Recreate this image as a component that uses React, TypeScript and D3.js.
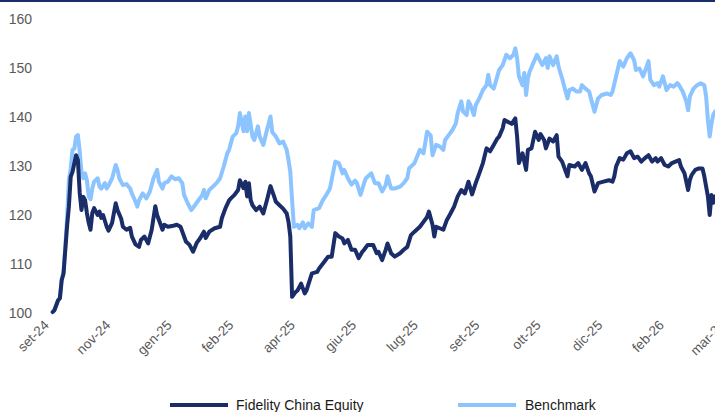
import React from "react";
import * as d3 from "d3";

const fundDays = [0,1,3,4,5,6,7,8,9,10,11,13,14,15,16,17,18,19,20,21,22,23,25,26,27,28,30,31,33,35,36,38,39,41,43,44,46,48,49,51,53,55,57,58,61,62,64,67,69,71,73,74,76,78,80,82,84,85,87,90,93,94,96,98,99,101,103,104,106,107,108,109,110,111,113,115,117,119,121,123,124,126,128,130,131,132,133,135,136,138,140,141,144,147,148,151,153,155,157,159,161,162,164,166,168,170,172,173,175,178,180,181,183,185,186,188,190,193,195,197,199,201,204,206,208,209,211,212,213,215,217,219,221,223,225,227,229,231,233,235,237,239,241,243,245,247,248,250,251,253,255,257,258,259,261,262,263,264,266,268,270,271,273,274,276,278,280,281,283,286,287,290,292,294,296,298,299,301,303,306,309,311,312,313,315,317,319,321,323,325,327,329,331,333,335,336,338,340,342,344,346,348,349,351,353,354,355,357,359,361,362,364,365,366,367,368];
const fundValues = [100.2,100.6,102.6,103,106.7,108,112.9,117.8,121.7,127.8,128.8,132.2,131.2,124.5,121,123.7,123,120.4,118.4,117,120.4,121.4,120,120.7,119.4,120,117.6,116.8,118.4,122.4,121,119.3,117.6,117,117.4,115.6,114,113.5,114.9,115.6,114.2,117,121.8,120,117,118,117.6,117.8,118,117.6,115.6,114.6,113.9,112.5,114.3,115.3,116.6,115.3,116.6,117.3,117.6,119.4,121.4,123,123.4,124.1,125.1,127.1,125.5,126.8,123.8,126.5,123,122,121,121.7,120.3,123,125.9,123.8,122.7,122,121.3,120.3,118.6,115.6,103.3,104.3,104.6,106,104,104.6,108.1,108.4,109.1,110.5,111.5,111.5,116.3,115.6,115.2,114.2,114.9,112.9,112.9,111.2,112.5,112.9,113.9,113.9,112.2,112.5,110.8,112.9,114.2,112.2,111.5,112.2,112.9,113.5,115.9,116.6,117.6,118.6,119.6,120.7,118,115.6,117.6,117.3,117,119,120.3,121.7,123.8,125.1,124.4,126.8,124.2,126.5,128.5,130.6,133.6,133,134.3,135.6,136,137.7,139.4,139,138.6,139.7,136,130.6,132.6,130.9,129.2,133.3,133.6,137,135.3,136.5,135.3,133.6,135.6,135,136.3,131.9,130.9,127.9,130.2,129.9,130.6,129.2,130.6,128.5,127.9,124.8,126.5,126.8,127.1,126.8,127.9,129.9,131.6,131.3,132.6,133,131.6,131.9,130.9,131.6,132.2,130.9,131.6,130.9,131.6,130.2,129.9,130.6,130.9,131.2,129.9,128.5,125.1,127.2,128.2,129.2,129.5,129.5,127.9,123.8,120,124.1,122.5,123.8];

const benchDays = [0,1,3,4,5,6,7,8,9,10,11,12,13,14,15,16,17,18,19,20,21,22,23,25,26,27,29,30,31,33,35,36,37,39,41,43,44,46,47,48,50,52,54,56,58,59,61,62,64,66,68,70,72,73,75,77,79,81,83,84,85,87,89,91,93,95,97,98,100,102,103,104,106,107,108,109,111,112,114,115,117,119,121,122,124,126,128,130,131,132,133,134,136,137,139,140,142,144,145,148,150,152,154,157,159,161,162,164,166,168,169,171,173,174,177,179,181,183,185,186,188,190,193,195,197,198,201,204,206,208,210,211,213,215,217,218,220,222,224,225,227,228,230,231,232,234,235,237,239,241,242,243,245,247,248,250,252,254,256,257,258,259,261,262,263,264,265,267,269,270,272,274,275,276,278,280,281,283,284,286,287,289,291,293,294,296,298,299,301,303,305,308,310,311,313,315,317,319,321,323,324,326,328,330,331,332,334,336,337,339,341,343,345,347,348,350,352,353,354,356,358,360,362,363,364,365,366,367,368];
const benchValues = [100.2,100.6,102.6,103.2,106.9,108.3,113.5,119.5,127.1,129.5,133.3,133.5,136,136.3,133,128.8,127.5,128.5,127.1,123.8,123.2,125.4,126.8,127.5,125.8,125.4,126.5,125.4,126,127.5,130.2,129.2,127.5,126.1,126.3,125.4,124.4,122.7,121.7,123,124.4,123.4,124.8,127.5,129.2,126.8,125.4,126.5,126.8,127.9,127.3,127.5,126.5,124.1,122.4,121,122,123,124,125.1,123.4,125.1,125.8,126.5,127.5,129.9,132.6,133.3,136,136.7,138.1,140.8,137.1,140.1,137.1,140.8,136,135.3,138.1,136,134.3,137.3,140.1,136.9,136,134.6,135,133.3,131.2,128.8,123,117.6,118,117.3,118.5,117.3,118.3,117.6,121,121.4,123,124.1,125.4,130.9,130.6,128.5,129.2,127.5,126.2,127,126.5,124.1,126.5,127.5,128.5,126.5,126.5,124.8,126.1,127.9,125.4,125.4,125.8,126.5,127.5,129.5,130.6,133.3,132.6,137,136.2,132.2,134.3,134,133.3,135.3,136.3,137.3,138.7,140.8,143.2,141.1,140.4,143.2,142.5,140.4,142.4,143.8,145.5,146.5,148.6,146.5,145.8,148.3,149.6,150.6,152.7,152,152.7,154,152,148.3,146.5,149,144.5,147.9,149.3,151,152.7,152,150.6,152,150,152.4,150.6,152.4,150.3,147.9,146.5,143.8,145.5,145.8,145.2,145.2,146.5,145.8,145.2,143.8,141.1,143.8,144.5,144.8,144.5,145.2,148.3,151.4,150.3,152,153,151.6,149.6,149.9,148.3,150.3,151.4,147.6,146.5,146.9,146.2,148.3,145.5,146.5,146.2,146.9,146.5,145.2,143.2,141.4,144.2,145.8,146.5,146.9,146.5,144.2,139.4,136,138.7,140.5,141.1];

const yTicks = [100, 110, 120, 130, 140, 150, 160];
const xTickLabels = ["set-24","nov-24","gen-25","feb-25","apr-25","giu-25","lug-25","set-25","ott-25","dic-25","feb-26","mar-26"];
const xTickDays = [0, 34.2, 68.3, 102.5, 136.7, 170.8, 205, 239.2, 273.3, 307.5, 341.7, 375.8];
const seriesNames = ["Fidelity China Equity", "Benchmark"];
const colors = ["#1b2d69", "#8cc4ff"];

export default function App() {
  const W = 715, H = 412;
  const x = d3.scaleLinear().domain([0, 368]).range([52.7, 715.1]);
  const y = d3.scaleLinear().domain([100, 160]).range([313, 19]);
  const line = d3.line<[number, number]>().x(d => x(d[0])).y(d => y(d[1]));
  const fund = fundDays.map((d, i) => [d, fundValues[i]] as [number, number]);
  const bench = benchDays.map((d, i) => [d, benchValues[i]] as [number, number]);
  const font = "'Liberation Sans', Arial, sans-serif";
  return (
    <svg width={W} height={H} style={{ position: "absolute", left: 0, top: 0, background: "#fff" }} fontFamily={font}>
      <rect x={0} y={0} width={W} height={2} fill="#1b2d69" />
      {yTicks.map(t => (
        <text key={t} x={32} y={y(t)} dy="0.35em" textAnchor="end" fontSize={14} fill="#595959">{t}</text>
      ))}
      <path d={line(bench) || ""} fill="none" stroke={colors[1]} strokeWidth={4} strokeLinejoin="round" strokeLinecap="round" />
      <path d={line(fund) || ""} fill="none" stroke={colors[0]} strokeWidth={4} strokeLinejoin="round" strokeLinecap="round" />
      {xTickLabels.map((lab, i) => (
        <text key={lab + i} transform={`translate(${x(xTickDays[i]) - 3},${326}) rotate(-45)`} textAnchor="end" fontSize={13.5} fill="#595959">{lab}</text>
      ))}
      <g>
        <line x1={170} x2={228} y1={405} y2={405} stroke={colors[0]} strokeWidth={4} />
        <text x={236} y={405} dy="0.35em" fontSize={14} fill="#1a1a1a">{seriesNames[0]}</text>
        <line x1={458} x2={516} y1={405} y2={405} stroke={colors[1]} strokeWidth={4} />
        <text x={525} y={405} dy="0.35em" fontSize={14} fill="#1a1a1a">{seriesNames[1]}</text>
      </g>
    </svg>
  );
}
